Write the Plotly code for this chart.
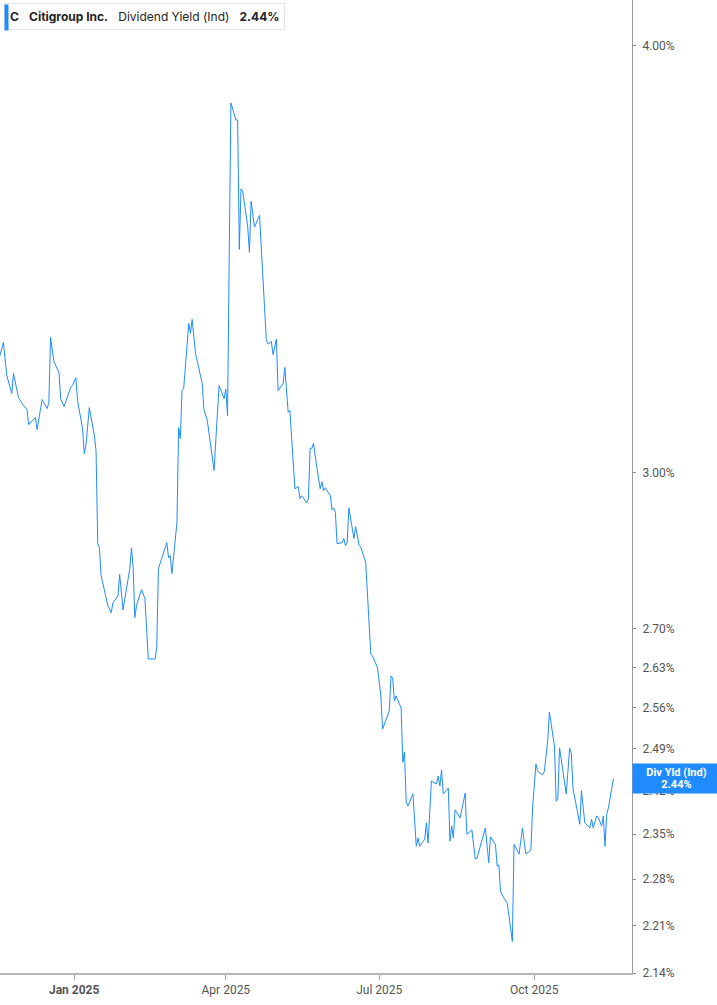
import math
import plotly.graph_objects as go

# dividend yield (indicated), percent
dates = [
    "2024-11-18", "2024-11-20", "2024-11-22", "2024-11-25", "2024-11-26", "2024-11-29",
    "2024-12-02", "2024-12-04", "2024-12-05", "2024-12-09", "2024-12-10", "2024-12-13",
    "2024-12-16", "2024-12-17", "2024-12-18", "2024-12-20", "2024-12-23", "2024-12-24",
    "2024-12-26", "2024-12-30", "2024-12-31",
    "2025-01-02", "2025-01-03", "2025-01-06", "2025-01-07", "2025-01-08", "2025-01-10",
    "2025-01-13", "2025-01-14", "2025-01-15", "2025-01-16", "2025-01-17", "2025-01-21",
    "2025-01-23", "2025-01-24", "2025-01-27", "2025-01-28", "2025-01-30",
    "2025-02-03", "2025-02-04", "2025-02-05", "2025-02-06", "2025-02-07", "2025-02-10",
    "2025-02-12", "2025-02-14", "2025-02-18", "2025-02-19", "2025-02-20", "2025-02-25",
    "2025-02-26", "2025-02-27", "2025-02-28",
    "2025-03-03", "2025-03-04", "2025-03-05", "2025-03-06", "2025-03-07", "2025-03-10",
    "2025-03-11", "2025-03-12", "2025-03-14", "2025-03-18", "2025-03-19", "2025-03-21",
    "2025-03-25", "2025-03-28", "2025-03-31",
    "2025-04-01", "2025-04-02", "2025-04-04", "2025-04-07", "2025-04-08", "2025-04-09",
    "2025-04-10", "2025-04-11", "2025-04-14", "2025-04-15", "2025-04-16", "2025-04-18",
    "2025-04-21", "2025-04-25", "2025-04-26", "2025-04-28", "2025-04-29",
    "2025-05-01", "2025-05-02", "2025-05-05", "2025-05-06", "2025-05-08", "2025-05-09",
    "2025-05-12", "2025-05-14", "2025-05-15", "2025-05-16", "2025-05-19", "2025-05-20",
    "2025-05-21", "2025-05-22", "2025-05-23", "2025-05-25", "2025-05-27", "2025-05-28",
    "2025-05-29", "2025-05-30",
    "2025-06-02", "2025-06-03", "2025-06-04", "2025-06-05", "2025-06-06", "2025-06-09",
    "2025-06-10", "2025-06-11", "2025-06-12", "2025-06-13", "2025-06-15", "2025-06-16",
    "2025-06-17", "2025-06-19", "2025-06-20", "2025-06-23", "2025-06-26", "2025-06-27",
    "2025-06-30",
    "2025-07-02", "2025-07-03", "2025-07-05", "2025-07-07", "2025-07-08", "2025-07-09",
    "2025-07-10", "2025-07-11", "2025-07-14", "2025-07-15", "2025-07-16", "2025-07-17",
    "2025-07-18", "2025-07-21", "2025-07-23", "2025-07-24", "2025-07-25", "2025-07-28",
    "2025-07-29", "2025-07-30",
    "2025-08-01", "2025-08-04", "2025-08-05", "2025-08-06", "2025-08-07", "2025-08-08",
    "2025-08-11", "2025-08-12", "2025-08-13", "2025-08-14", "2025-08-15", "2025-08-18",
    "2025-08-21", "2025-08-22", "2025-08-25", "2025-08-27", "2025-08-28", "2025-08-31",
    "2025-09-02", "2025-09-04", "2025-09-05", "2025-09-08", "2025-09-09", "2025-09-10",
    "2025-09-11", "2025-09-13", "2025-09-15", "2025-09-18", "2025-09-19", "2025-09-22",
    "2025-09-24", "2025-09-26", "2025-09-29", "2025-09-30",
    "2025-10-02", "2025-10-03", "2025-10-06", "2025-10-07", "2025-10-09", "2025-10-10",
    "2025-10-13", "2025-10-14", "2025-10-15", "2025-10-16", "2025-10-20", "2025-10-22",
    "2025-10-23", "2025-10-24", "2025-10-28", "2025-10-29", "2025-10-31",
    "2025-11-03", "2025-11-04", "2025-11-05", "2025-11-07", "2025-11-08", "2025-11-10",
    "2025-11-11", "2025-11-12", "2025-11-13", "2025-11-14", "2025-11-17",
]

div_yield = [
    3.246, 3.275, 3.203, 3.164, 3.207, 3.155,
    3.138, 3.130, 3.098, 3.113, 3.088, 3.151,
    3.132, 3.145, 3.286, 3.233, 3.209, 3.153,
    3.136, 3.177, 3.181,
    3.198, 3.149, 3.090, 3.038, 3.055, 3.134,
    3.075, 3.044, 2.859, 2.851, 2.798, 2.742,
    2.729, 2.747, 2.760, 2.800, 2.734,
    2.811, 2.851, 2.813, 2.720, 2.742, 2.772,
    2.755, 2.645, 2.645, 2.665, 2.811, 2.861,
    2.832, 2.836, 2.802,
    2.900, 3.092, 3.069, 3.170, 3.175, 3.317,
    3.295, 3.326, 3.251, 3.185, 3.130, 3.107,
    3.004, 3.181, 3.153,
    3.173, 3.117, 3.849, 3.805, 3.805, 3.487,
    3.632, 3.627, 3.540, 3.480, 3.602, 3.540,
    3.568, 3.282, 3.271, 3.277, 3.248,
    3.282, 3.170, 3.185, 3.220, 3.124, 3.128,
    2.967, 2.971, 2.947, 2.953, 2.939, 2.947,
    3.049, 3.049, 3.059, 3.010, 2.967, 2.981,
    2.963, 2.969,
    2.953, 2.925, 2.929, 2.920, 2.859, 2.861,
    2.869, 2.855, 2.861, 2.929, 2.892, 2.869,
    2.892, 2.857, 2.853, 2.823, 2.654, 2.651,
    2.629,
    2.580, 2.523, 2.537, 2.554, 2.615, 2.612,
    2.571, 2.580, 2.559, 2.467, 2.484, 2.403,
    2.395, 2.415, 2.331, 2.344, 2.331, 2.342,
    2.368, 2.336,
    2.436, 2.431, 2.444, 2.428, 2.454, 2.415,
    2.424, 2.339, 2.363, 2.344, 2.389, 2.376,
    2.416, 2.350, 2.357, 2.311, 2.312, 2.342,
    2.360, 2.305, 2.346, 2.334, 2.300, 2.302,
    2.261, 2.251, 2.243, 2.186, 2.334, 2.319,
    2.360, 2.319, 2.325, 2.392,
    2.464, 2.452, 2.446, 2.452, 2.503, 2.552,
    2.494, 2.403, 2.407, 2.491, 2.415, 2.491,
    2.482, 2.424, 2.366, 2.420, 2.368,
    2.360, 2.374, 2.360, 2.379, 2.377, 2.363,
    2.379, 2.331, 2.382, 2.392, 2.440,
]

y_ticks = [2.14, 2.21, 2.28, 2.35, 2.42, 2.49, 2.56, 2.63, 2.70, 3.00, 4.00]
x_ticks = ["2025-01-01", "2025-04-01", "2025-07-01", "2025-10-01"]
x_tick_labels = ["<b>Jan 2025</b>", "Apr 2025", "Jul 2025", "Oct 2025"]

BLUE = "#1f8bff"
last = div_yield[-1]

fig = go.Figure()
fig.add_trace(go.Scatter(
    x=dates, y=div_yield, mode="lines",
    line=dict(color=BLUE, width=1),
    showlegend=False, hoverinfo="skip",
))

fig.update_layout(
    width=717, height=1005,
    margin=dict(l=0, r=85, t=0, b=32),
    paper_bgcolor="white", plot_bgcolor="white",
    font=dict(family="Roboto, Inter, sans-serif", size=12, color="#555555"),
)

fig.update_xaxes(
    range=["2024-11-18", "2025-11-28"],
    tickvals=x_ticks, ticktext=x_tick_labels,
    ticks="outside", ticklen=5, tickcolor="#aaaaaa",
    showline=True, linecolor="#b5b5b5", linewidth=2,
    showgrid=False, zeroline=False,
    tickfont=dict(size=12, color="#555555"),
)

fig.update_yaxes(
    type="log", side="right",
    range=[math.log10(2.14), math.log10(4.126)],
    tickvals=y_ticks, ticktext=[f"{v:.2f}%" for v in y_ticks],
    ticks="outside", ticklen=3, tickcolor="#888888",
    showline=True, linecolor="#999999", linewidth=1,
    showgrid=False, zeroline=False, ticklabelstandoff=4,
    tickfont=dict(size=12, color="#555555"),
)

# header box, top left
nb = "\u00a0"
header = (f"<b>C</b>{nb*3}<b>Citigroup Inc.</b>{nb*3}Dividend Yield (Ind){nb*3}"
          f"<b>{last:.2f}%</b>")
fig.add_annotation(
    xref="paper", yref="paper", x=0.0065, y=1, xanchor="left", yanchor="top",
    yshift=-3, text=header, showarrow=False, align="left",
    font=dict(family="Inter, Roboto, sans-serif", size=12, color="#222222"),
    bgcolor="white", bordercolor="#e6e6e6", borderwidth=1, borderpad=5,
)
# blue marker bar on the left edge of the header box
fig.add_annotation(
    xref="paper", yref="paper", x=0.0065, y=1, xanchor="left", yanchor="top",
    yshift=-4, text=" ", showarrow=False, width=3, height=25,
    bgcolor=BLUE, borderpad=0,
)

# last value tag on the right axis: blue box plus two tight text lines
fig.add_annotation(
    xref="paper", yref="y", x=1, y=math.log10(last), xanchor="left", yanchor="middle",
    text=" ", showarrow=False, width=85, height=29, bgcolor=BLUE, borderpad=0,
)
fig.add_annotation(
    xref="paper", yref="y", x=1, y=math.log10(last), xanchor="left", yanchor="middle",
    xshift=0, yshift=6, width=85, align="center", showarrow=False,
    text="<b>Div Yld (Ind)</b>",
    font=dict(family="Roboto, Inter, sans-serif", size=11, color="white"),
)
fig.add_annotation(
    xref="paper", yref="y", x=1, y=math.log10(last), xanchor="left", yanchor="middle",
    xshift=0, yshift=-6, width=85, align="center", showarrow=False,
    text=f"<b>{last:.2f}%</b>",
    font=dict(family="Roboto, Inter, sans-serif", size=11, color="white"),
)

fig.write_html("out.html", config={"displayModeBar": False},
               post_script="document.body.style.margin='0';")
